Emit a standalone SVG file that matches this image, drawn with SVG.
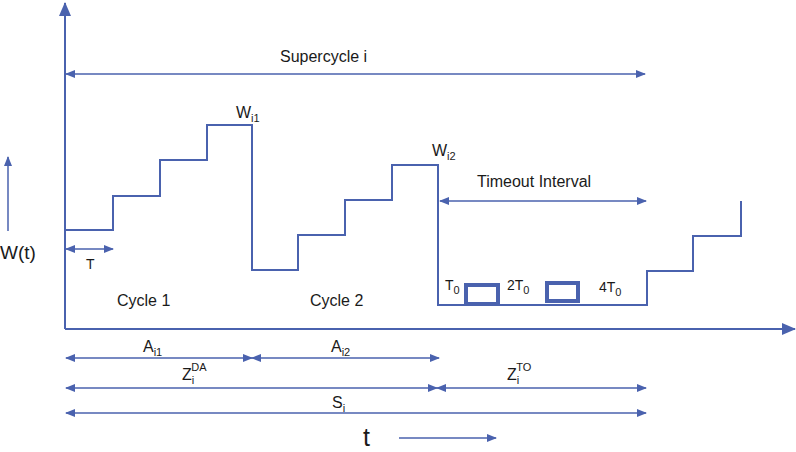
<svg xmlns="http://www.w3.org/2000/svg" width="796" height="452" viewBox="0 0 796 452">
<style>
.ln{stroke:#4a62ae;stroke-width:2;fill:none}
.dim{stroke:#4a62ae;stroke-width:1.5;fill:none}
.tx{font-family:"Liberation Sans",Arial,sans-serif;font-size:16px;fill:#1a1a1a}
.sm{font-size:14px}
.sub{font-size:11px}
</style>
<defs>
<marker id="ah" markerUnits="userSpaceOnUse" markerWidth="10" markerHeight="10" viewBox="0 0 10 10" refX="9" refY="5" orient="auto-start-reverse">
<path d="M0,1 L10,5 L0,9 Z" fill="#4a62ae"/>
</marker>
<marker id="big" markerUnits="userSpaceOnUse" markerWidth="14" markerHeight="14" viewBox="0 0 14 14" refX="13" refY="7" orient="auto">
<path d="M0,1 L14,7 L0,13 Z" fill="#4a62ae"/>
</marker>
</defs>
<g id="axes">
<line class="ln" x1="65" y1="329" x2="65" y2="3" marker-end="url(#big)"/>
<line class="ln" x1="65" y1="329" x2="795" y2="329" marker-end="url(#big)"/>
<line class="dim" x1="8" y1="231" x2="8" y2="157" marker-end="url(#ah)"/>
<text class="tx" x="0" y="259" style="font-size:19px">W(t)</text>
<text class="tx" x="363" y="446" style="font-size:25px">t</text>
<line class="dim" x1="399" y1="438" x2="496" y2="438" marker-end="url(#ah)"/>
</g>
<g id="waveform">
<polyline class="ln" points="65,230 113,230 113,196 160,196 160,160 207,160 207,125 252,125 252,270 298,270 298,235 345,235 345,200 392,200 392,165 438,165 438,305 648,305"/>
<polyline class="ln" points="647,305 647,271 693,271 693,236 741,236 741,201"/>
<rect x="466" y="285" width="32" height="19" fill="none" stroke="#4a62ae" stroke-width="4"/>
<rect x="547" y="283" width="31" height="18" fill="none" stroke="#4a62ae" stroke-width="4"/>
</g>
<g id="labels">
<text class="tx" x="280" y="62">Supercycle i</text>
<text class="tx" x="236" y="118">W<tspan class="sub" dy="4">i1</tspan></text>
<text class="tx" x="432" y="156">W<tspan class="sub" dy="4">i2</tspan></text>
<text class="tx" x="477" y="187">Timeout Interval</text>
<text class="tx sm" x="86" y="269">T</text>
<text class="tx" x="117" y="306">Cycle 1</text>
<text class="tx" x="310" y="306">Cycle 2</text>
<text class="tx sm" x="445" y="290">T<tspan class="sub" dy="4">0</tspan></text>
<text class="tx sm" x="507" y="290">2T<tspan class="sub" dy="4">0</tspan></text>
<text class="tx sm" x="599" y="292">4T<tspan class="sub" dy="4">0</tspan></text>
<text class="tx" x="143" y="352">A<tspan class="sub" dy="4">i1</tspan></text>
<text class="tx" x="331" y="352">A<tspan class="sub" dy="4">i2</tspan></text>
<text class="tx" x="182" y="380">Z<tspan class="sub" dy="4">i</tspan><tspan class="sub" dx="-3" dy="-13">DA</tspan></text>
<text class="tx" x="507" y="380">Z<tspan class="sub" dy="4">i</tspan><tspan class="sub" dx="-3" dy="-13">TO</tspan></text>
<text class="tx" x="332" y="408">S<tspan class="sub" dy="4">i</tspan></text>
</g>
<g id="connectors">
<line class="dim" x1="66" y1="74" x2="645" y2="74" marker-start="url(#ah)" marker-end="url(#ah)"/>
<line class="dim" x1="440" y1="201" x2="646" y2="201" marker-start="url(#ah)" marker-end="url(#ah)"/>
<line class="dim" x1="66" y1="249" x2="113" y2="249" marker-start="url(#ah)" marker-end="url(#ah)"/>
<line class="dim" x1="66" y1="358" x2="252" y2="358" marker-start="url(#ah)" marker-end="url(#ah)"/>
<line class="dim" x1="252" y1="358" x2="439" y2="358" marker-start="url(#ah)" marker-end="url(#ah)"/>
<line class="dim" x1="66" y1="388" x2="437" y2="388" marker-start="url(#ah)" marker-end="url(#ah)"/>
<line class="dim" x1="437" y1="388" x2="646" y2="388" marker-start="url(#ah)" marker-end="url(#ah)"/>
<line class="dim" x1="66" y1="413" x2="646" y2="413" marker-start="url(#ah)" marker-end="url(#ah)"/>
</g>
</svg>
